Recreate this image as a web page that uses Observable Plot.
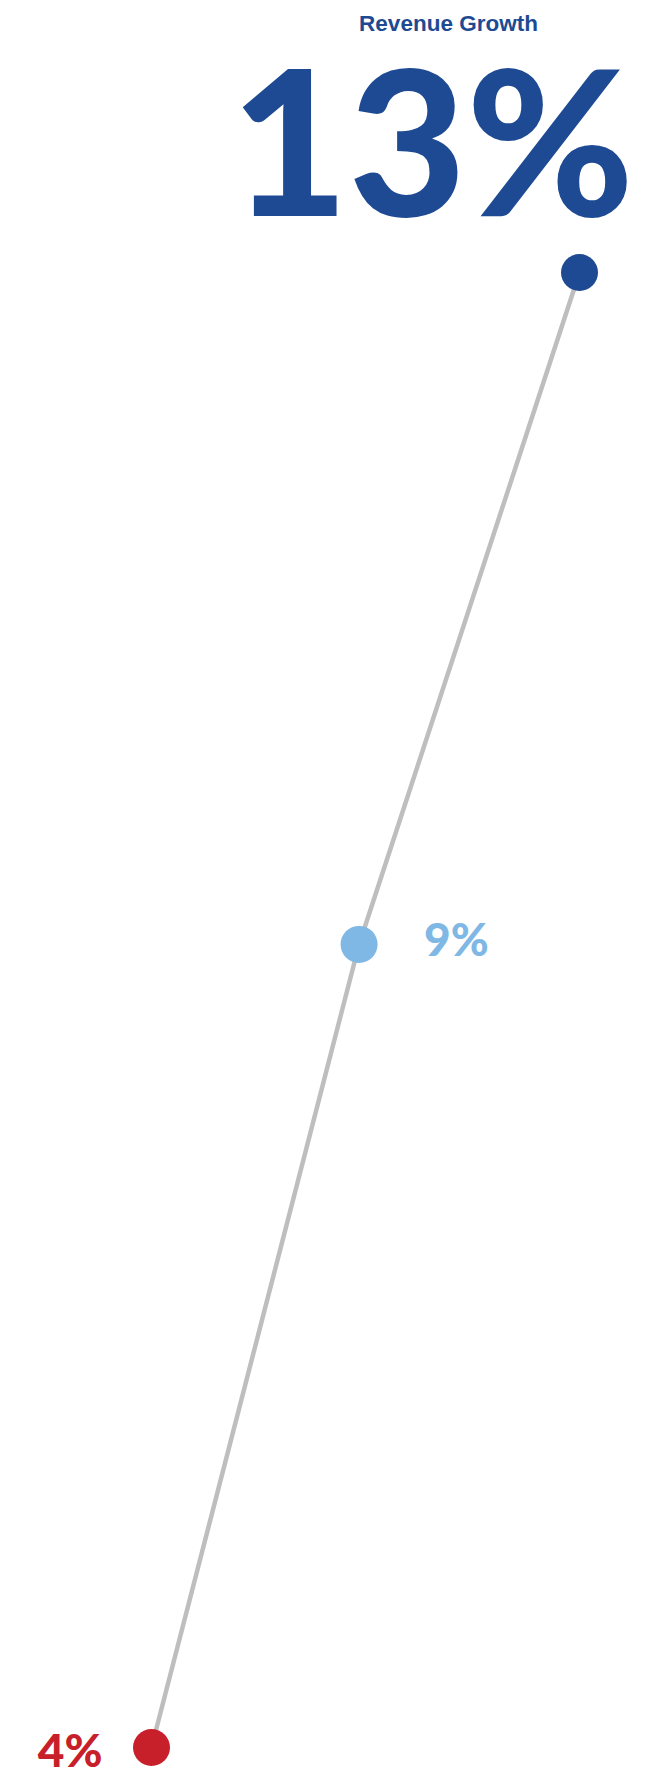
<!DOCTYPE html>
<html>
<head>
<meta charset="utf-8">
<script src="https://cdn.jsdelivr.net/npm/d3@7"></script>
<script src="https://cdn.jsdelivr.net/npm/@observablehq/plot@0.6"></script>
<style>
  html, body { margin: 0; padding: 0; background: #ffffff; }
  #chart svg { display: block; }
</style>
</head>
<body>
<div id="chart"></div>
<script>
// Data
const steps = [0, 0.97, 2];
const growth = [4, 8.9, 13];
const labels = ["4%", "9%", "13%"];
const colors = ["#c8202a", "#7fb8e4", "#1e4a93"];
const title = "Revenue Growth";

const data = steps.map((s, i) => ({step: s, value: growth[i], label: labels[i], color: colors[i]}));
const numFont = "Lato, 'Open Sans', sans-serif";

const chart = Plot.plot({
  width: 655,
  height: 1776,
  marginLeft: 151,
  marginRight: 76,
  marginTop: 272,
  marginBottom: 29,
  x: {domain: [0, 2], axis: null},
  y: {domain: [4, 13], axis: null},
  style: {background: "#ffffff", overflow: "visible"},
  marks: [
    Plot.line(data, {x: "step", y: "value", stroke: "#bebebe", strokeWidth: 4.5}),
    Plot.dot(data, {x: "step", y: "value", r: 18.5, fill: "color", stroke: "none"}),
    // top label
    Plot.text([data[2]], {x: "step", y: "value", text: () => title, fill: "color",
      dx: -131, dy: -242, lineAnchor: "bottom", textAnchor: "middle",
      fontFamily: "'Liberation Sans', Arial, sans-serif", fontWeight: "bold", fontSize: 22.5}),
    Plot.text([data[2]], {x: "step", y: "value", text: "label", fill: "color",
      dx: -147, dy: -57, lineAnchor: "bottom", textAnchor: "middle",
      fontFamily: numFont, fontWeight: 900, fontSize: 203, letterSpacing: "-8px"}),
    Plot.text([data[1]], {x: "step", y: "value", text: "label", fill: "color",
      dx: 65, dy: 12, lineAnchor: "bottom", textAnchor: "start",
      fontFamily: numFont, fontWeight: 900, fontSize: 46}),
    Plot.text([data[0]], {x: "step", y: "value", text: "label", fill: "color",
      dx: -49, dy: 19, lineAnchor: "bottom", textAnchor: "end",
      fontFamily: numFont, fontWeight: 900, fontSize: 46})
  ]
});
document.getElementById("chart").appendChild(chart);
</script>
</body>
</html>
